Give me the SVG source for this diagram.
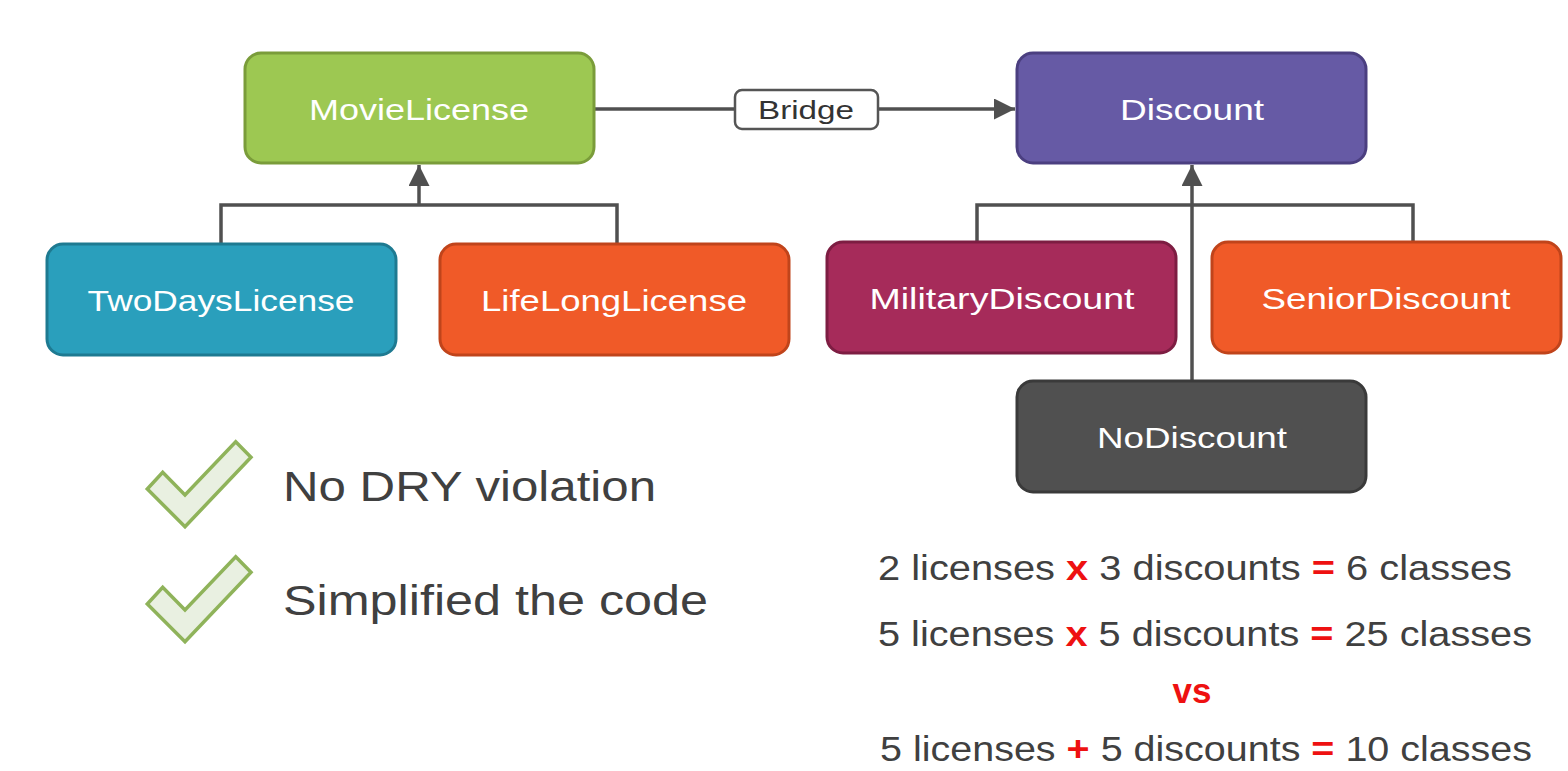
<svg xmlns="http://www.w3.org/2000/svg" width="1568" height="771" viewBox="0 0 1568 771">
<defs>
<style>
.node{stroke-width:3}
.nt{font-family:"Liberation Sans",Arial,sans-serif;font-size:30px;fill:#fff;text-anchor:middle}
.con{fill:none;stroke:#505050;stroke-width:3.5}
.big{font-family:"Liberation Sans",Arial,sans-serif;font-size:43px;fill:#404040}
.eq{font-family:"Liberation Sans",Arial,sans-serif;font-size:35px;fill:#404040}
.red{fill:#ee1111;font-weight:bold}
.check{fill:#e9f0e1;stroke:#8fb35a;stroke-width:3.5;stroke-linejoin:miter}
</style>
<marker id="arr" viewBox="0 0 10 10" refX="10" refY="5" markerWidth="6" markerHeight="6" markerUnits="strokeWidth" orient="auto">
<path d="M0,0 L10,5 L0,10 z" fill="#505050"/>
</marker>
</defs>
<rect width="1568" height="771" fill="#fff"/>
<g id="connectors">
<path class="con" d="M221,244 V205 H617 V244"/>
<path class="con" d="M419,205 V165" marker-end="url(#arr)"/>
<path class="con" d="M977,242 V205 H1413 V242"/>
<path class="con" d="M1192,381 V165" marker-end="url(#arr)"/>
<path class="con" d="M594,109 H735"/>
<path class="con" d="M878,109 H1015" marker-end="url(#arr)"/>
</g>
<g id="bridge-label">
<rect x="735" y="90" width="143" height="39" rx="7" fill="#fff" stroke="#555" stroke-width="2.5"/>
<text x="806" y="119" font-family="Liberation Sans,Arial,sans-serif" font-size="26" fill="#333" text-anchor="middle" textLength="96" lengthAdjust="spacingAndGlyphs">Bridge</text>
</g>
<g id="MovieLicense">
<rect class="node" x="245" y="53" width="349" height="110" rx="16" fill="#9dc852" stroke="#7a9c3a"/>
<text class="nt" x="419" y="120" textLength="220" lengthAdjust="spacingAndGlyphs">MovieLicense</text>
</g>
<g id="Discount">
<rect class="node" x="1017" y="53" width="349" height="110" rx="16" fill="#665aa5" stroke="#4b3f80"/>
<text class="nt" x="1192" y="120" textLength="144" lengthAdjust="spacingAndGlyphs">Discount</text>
</g>
<g id="TwoDaysLicense">
<rect class="node" x="47" y="244" width="349" height="111" rx="16" fill="#2a9fbc" stroke="#1e7a91"/>
<text class="nt" x="221" y="311" textLength="267" lengthAdjust="spacingAndGlyphs">TwoDaysLicense</text>
</g>
<g id="LifeLongLicense">
<rect class="node" x="440" y="244" width="349" height="111" rx="16" fill="#f05a28" stroke="#c0441b"/>
<text class="nt" x="614" y="311" textLength="266" lengthAdjust="spacingAndGlyphs">LifeLongLicense</text>
</g>
<g id="MilitaryDiscount">
<rect class="node" x="827" y="242" width="349" height="111" rx="16" fill="#a62b5a" stroke="#7d1d42"/>
<text class="nt" x="1002" y="309" textLength="265" lengthAdjust="spacingAndGlyphs">MilitaryDiscount</text>
</g>
<g id="SeniorDiscount">
<rect class="node" x="1212" y="242" width="349" height="111" rx="16" fill="#f05a28" stroke="#c0441b"/>
<text class="nt" x="1386" y="309" textLength="249" lengthAdjust="spacingAndGlyphs">SeniorDiscount</text>
</g>
<g id="NoDiscount">
<rect class="node" x="1017" y="381" width="349" height="111" rx="16" fill="#505050" stroke="#3a3a3a"/>
<text class="nt" x="1192" y="448" textLength="190" lengthAdjust="spacingAndGlyphs">NoDiscount</text>
</g>
<g id="check1">
<polygon class="check" points="235.7,441.7 251,457.3 185,526.7 147.3,489 162.7,472.3 185,495"/>
<text class="big" x="283" y="501" textLength="373" lengthAdjust="spacingAndGlyphs">No DRY violation</text>
</g>
<g id="check2">
<polygon class="check" points="235.7,556.7 251,572.3 185,641.7 147.3,604 162.7,587.3 185,610"/>
<text class="big" x="283" y="615" textLength="425" lengthAdjust="spacingAndGlyphs">Simplified the code</text>
</g>
<g id="equations">
<text class="eq" x="878" y="580" textLength="634" lengthAdjust="spacingAndGlyphs">2 licenses <tspan class="red">x</tspan> 3 discounts <tspan class="red">=</tspan> 6 classes</text>
<text class="eq" x="878" y="646" textLength="654" lengthAdjust="spacingAndGlyphs">5 licenses <tspan class="red">x</tspan> 5 discounts <tspan class="red">=</tspan> 25 classes</text>
<text class="eq red" x="1192" y="703" text-anchor="middle">vs</text>
<text class="eq" x="880" y="761" textLength="652" lengthAdjust="spacingAndGlyphs">5 licenses <tspan class="red">+</tspan> 5 discounts <tspan class="red">=</tspan> 10 classes</text>
</g>
</svg>
